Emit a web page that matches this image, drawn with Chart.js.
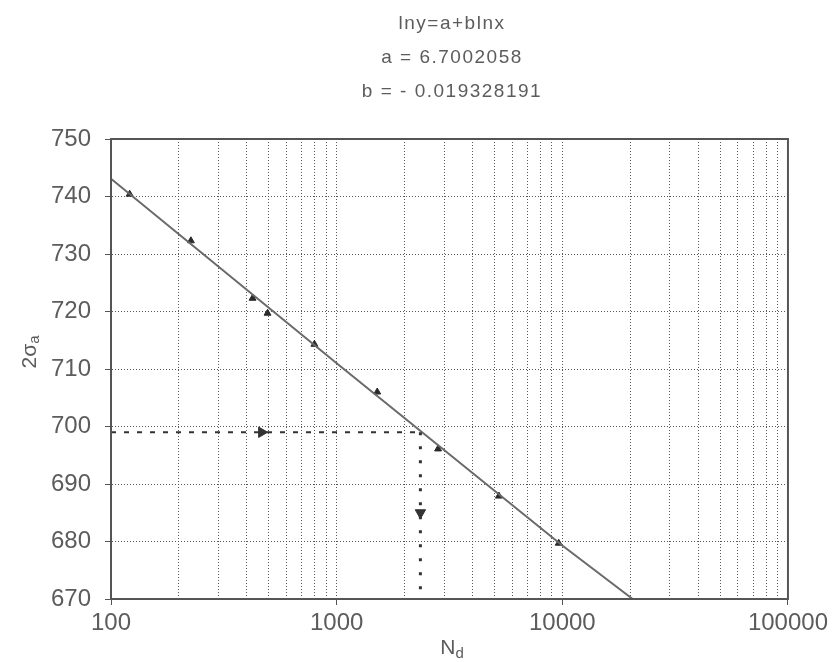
<!DOCTYPE html>
<html>
<head>
<meta charset="utf-8">
<script src="https://cdn.jsdelivr.net/npm/chart.js@4/dist/chart.umd.min.js"></script>
<style>
  html, body { margin: 0; padding: 0; background: #ffffff; }
  #wrap { width: 832px; height: 662px; }
</style>
</head>
<body>
<div id="wrap"><canvas id="c" width="832" height="662"></canvas></div>
<script>
// ---- data ----
const titleLines = ['lny=a+blnx', 'a = 6.7002058', 'b = - 0.019328191'];
const xTickLabels = [100, 1000, 10000, 100000];
const yTicks = [670, 680, 690, 700, 710, 720, 730, 740, 750];

// measured points (N_d, 2σa)
const nValues = [121, 226, 424, 494, 797, 1513, 2815, 5236, 9640];
const sigmaValues = [740.4, 732.3, 722.3, 719.7, 714.3, 706.0, 696.1, 687.9, 679.7];

// fitted curve lny = a + b lnx
const fitN = [100, 1000, 10000, 20500];
const fitSigma = [743.1, 711.0, 679.3, 670.0];

// read-off guide (dashed arrows)
const guideHN = [100, 2350];
const guideHSigma = [699, 699];
const guideVN = [2350, 2350];
const guideVSigma = [699, 670];
const arrowRightN = [465];
const arrowRightSigma = [699];
const arrowDownN = [2350];
const arrowDownSigma = [685];

const toXY = (xs, ys) => xs.map((x, i) => ({ x: x, y: ys[i] }));

const textColor = '#5c5c5c';
const lineColor = '#6a6a6a';

const framePlugin = {
  id: 'frame',
  afterDatasetsDraw(chart) {
    const { ctx, chartArea: a } = chart;
    ctx.save();
    ctx.strokeStyle = '#555';
    ctx.lineWidth = 2;
    ctx.strokeRect(a.left, a.top, a.right - a.left, a.bottom - a.top);
    ctx.restore();
  }
};

const textPlugin = {
  id: 'texts',
  afterDraw(chart) {
    const ctx = chart.ctx;
    ctx.save();
    ctx.fillStyle = textColor;
    ctx.textAlign = 'center';
    ctx.textBaseline = 'middle';
    ctx.font = '19px "Liberation Sans", Arial, sans-serif';
    try { ctx.letterSpacing = '1.5px'; } catch (e) {}
    const ys = [24, 58, 92];
    titleLines.forEach((t, i) => ctx.fillText(t, 452, ys[i]));
    try { ctx.letterSpacing = '0px'; } catch (e) {}

    // x-axis title N_d
    ctx.textAlign = 'left';
    ctx.font = '21px "Liberation Sans", Arial, sans-serif';
    const wN = ctx.measureText('N').width;
    ctx.font = '15px "Liberation Sans", Arial, sans-serif';
    const wd = ctx.measureText('d').width;
    const x0 = 452 - (wN + wd) / 2;
    ctx.font = '21px "Liberation Sans", Arial, sans-serif';
    ctx.fillText('N', x0, 648);
    ctx.font = '15px "Liberation Sans", Arial, sans-serif';
    ctx.fillText('d', x0 + wN, 654);

    // y-axis title 2σa (rotated)
    ctx.translate(30, 352);
    ctx.rotate(-Math.PI / 2);
    ctx.font = '21px "Liberation Sans", Arial, sans-serif';
    const w2 = ctx.measureText('2σ').width;
    ctx.font = '15px "Liberation Sans", Arial, sans-serif';
    const wa = ctx.measureText('a').width;
    const s0 = -(w2 + wa) / 2;
    ctx.font = '21px "Liberation Sans", Arial, sans-serif';
    ctx.fillText('2σ', s0, 0);
    ctx.font = '15px "Liberation Sans", Arial, sans-serif';
    ctx.fillText('a', s0 + w2, 5);
    ctx.restore();
  }
};

new Chart(document.getElementById('c'), {
  type: 'scatter',
  data: {
    datasets: [
      {
        data: toXY(guideHN, guideHSigma),
        showLine: true, borderColor: '#333', borderWidth: 2,
        borderDash: [5, 8], pointRadius: 0, fill: false
      },
      {
        data: toXY(guideVN, guideVSigma),
        showLine: true, borderColor: '#333', borderWidth: 3,
        borderDash: [3, 11], pointRadius: 0, fill: false
      },
      {
        data: toXY(arrowRightN, arrowRightSigma),
        pointStyle: 'triangle', rotation: 90, pointRadius: 6,
        backgroundColor: '#333', borderColor: '#333', showLine: false
      },
      {
        data: toXY(arrowDownN, arrowDownSigma),
        pointStyle: 'triangle', rotation: 180, pointRadius: 6,
        backgroundColor: '#333', borderColor: '#333', showLine: false
      },
      {
        data: toXY(fitN, fitSigma),
        showLine: true, borderColor: lineColor, borderWidth: 2,
        pointRadius: 0, fill: false, tension: 0
      },
      {
        data: toXY(nValues, sigmaValues),
        pointStyle: 'triangle', pointRadius: 4,
        backgroundColor: '#2a2a2a', borderColor: '#2a2a2a', showLine: false
      }
    ]
  },
  options: {
    responsive: false,
    animation: false,
    events: [],
    layout: { padding: { top: 139, right: 42, left: 0, bottom: 0 } },
    plugins: { legend: { display: false }, tooltip: { enabled: false }, title: { display: false } },
    scales: {
      x: {
        type: 'logarithmic',
        min: 100, max: 100000,
        afterFit(scale) { scale.height = 63; },
        afterBuildTicks(scale) {
          const t = [];
          for (let d = 100; d < 100000; d *= 10) {
            for (let k = 1; k <= 9; k++) t.push({ value: d * k });
          }
          t.push({ value: 100000 });
          scale.ticks = t;
        },
        ticks: {
          autoSkip: false, maxRotation: 0, color: textColor, padding: 4,
          font: { family: '"Liberation Sans", Arial, sans-serif', size: 24 },
          callback(v) { return xTickLabels.includes(Math.round(v)) ? String(Math.round(v)) : ''; }
        },
        grid: {
          color: 'rgba(70,70,70,0.9)', lineWidth: 1, tickLength: 6,
          tickColor(ctx) {
            const v = ctx.tick ? Math.round(ctx.tick.value) : 0;
            return xTickLabels.includes(v) ? '#555' : 'rgba(0,0,0,0)';
          }
        },
        border: { display: true, color: '#555', width: 2, dash: [1, 2] }
      },
      y: {
        min: 670, max: 750,
        afterFit(scale) { scale.width = 111; },
        afterBuildTicks(scale) { scale.ticks = yTicks.map(v => ({ value: v })); },
        ticks: {
          color: textColor, padding: 14,
          font: { family: '"Liberation Sans", Arial, sans-serif', size: 24 }
        },
        grid: { color: 'rgba(70,70,70,0.9)', lineWidth: 1, tickLength: 6, tickColor: '#555' },
        border: { display: true, color: '#555', width: 2, dash: [1, 2] }
      }
    }
  },
  plugins: [framePlugin, textPlugin]
});
</script>
</body>
</html>
